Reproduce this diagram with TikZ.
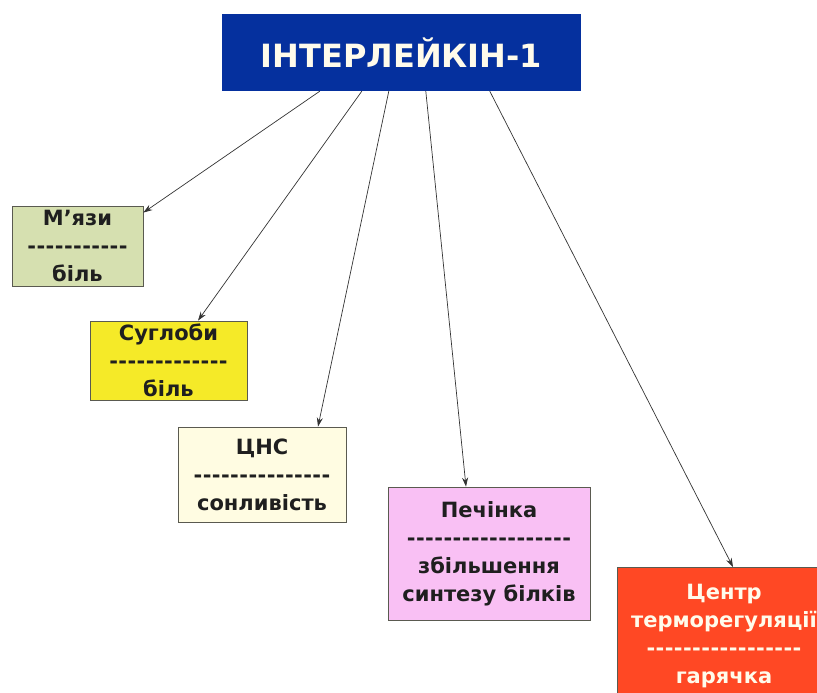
\documentclass[tikz,border=0pt]{standalone}
\usepackage{fontspec}
\setmainfont{DejaVu Sans}
% plain hyphens for the separator rows (no TeX dash ligatures)
\newfontfamily\dashfont{DejaVu Sans}[LetterSpace=2]
\usetikzlibrary{arrows.meta,calc}

\definecolor{titleblue}{RGB}{5,48,158}
\definecolor{titletext}{RGB}{255,251,235}
\definecolor{musclegreen}{RGB}{214,224,176}
\definecolor{jointyellow}{RGB}{245,234,40}
\definecolor{cnscream}{RGB}{255,252,226}
\definecolor{liverpink}{RGB}{249,192,244}
\definecolor{thermored}{RGB}{255,72,36}
\definecolor{edgegray}{RGB}{90,90,80}

\tikzset{
  organ/.style={draw=edgegray, line width=0.8pt, inner sep=0pt, align=center,
    font=\bfseries\fontsize{21}{28}\selectfont, text=black!88},
  link/.style={draw=black!80, line width=0.7pt, -{Stealth[length=9pt,width=6pt]}}
}
\newcommand{\dashrule}[1]{{\dashfont\bfseries #1}}

\begin{document}
\begin{tikzpicture}[x=1pt,y=-1pt]
  \useasboundingbox (0,0) rectangle (817,693);
  \clip (0,0) rectangle (817,693);

  % central cytokine
  \node[fill=titleblue, inner sep=0pt, minimum width=359pt, minimum height=77pt,
        text=titletext, font=\bfseries\fontsize{32}{38}\selectfont]
        (il1) at (401.5,52.5) {ІНТЕРЛЕЙКІН-1};

  % target organs
  \node[organ, fill=musclegreen, minimum width=131pt, minimum height=80pt]
        (muscle) at (77.5,246) {М’язи\\\dashrule{-----------}\\біль};
  \node[organ, fill=jointyellow, minimum width=157pt, minimum height=79pt]
        (joint) at (168.5,360.5) {Суглоби\\\dashrule{-------------}\\біль};
  \node[organ, fill=cnscream, minimum width=168pt, minimum height=95pt]
        (cns) at (262,474.5) {ЦНС\\\dashrule{---------------}\\сонливість};
  \node[organ, fill=liverpink, minimum width=202pt, minimum height=133pt]
        (liver) at (489,553.5) {Печінка\\\dashrule{------------------}\\збільшення\\синтезу білків};
  \node[organ, fill=thermored, text=titletext, minimum width=214pt, minimum height=138pt,
        anchor=north] (thermo) at (724,567)
        {Центр\\терморегуляції\\\dashrule{-----------------}\\гарячка};

  % connectors from the cytokine to each organ
  \draw[link] ([xshift=98pt]il1.south west)  -- ([yshift=-7pt]muscle.north east);
  \draw[link] ([xshift=140pt]il1.south west) -- ([xshift=29.5pt]joint.north);
  \draw[link] ([xshift=167pt]il1.south west) -- ([xshift=56pt]cns.north);
  \draw[link] ([xshift=204pt]il1.south west) -- ([xshift=-23pt]liver.north);
  \draw[link] ([xshift=268pt]il1.south west) -- ([xshift=9pt]thermo.north);
\end{tikzpicture}
\end{document}
